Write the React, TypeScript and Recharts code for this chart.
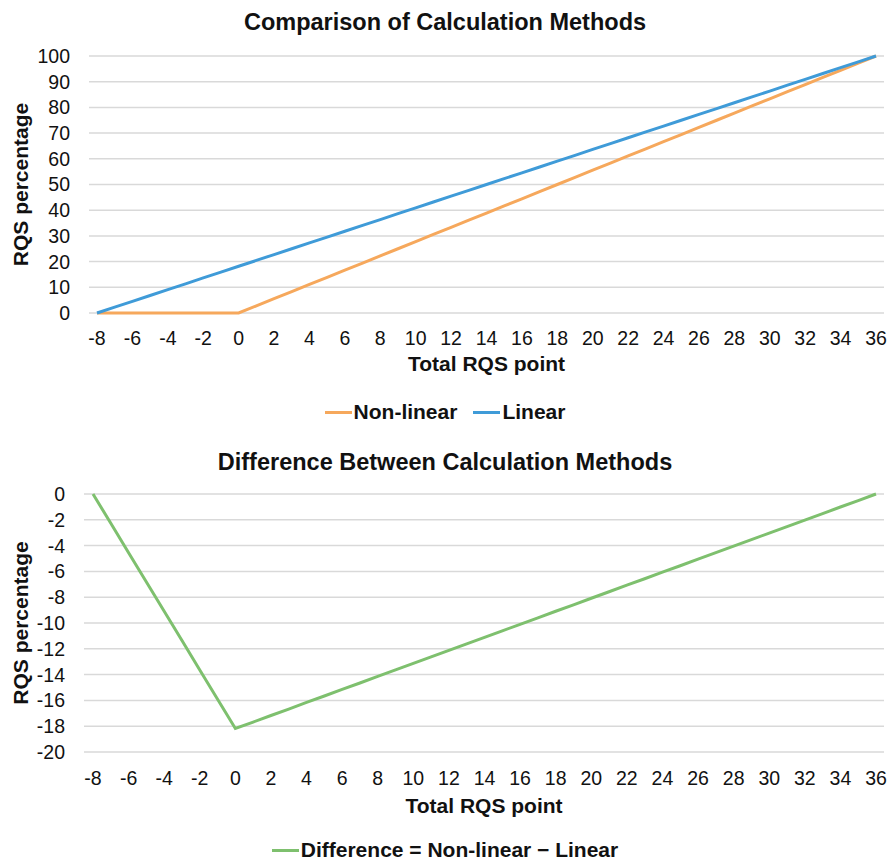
import { CartesianGrid, Line, LineChart, XAxis, YAxis } from "recharts";

// Total RQS point, one point per integer
const points = [
  -8, -7, -6, -5, -4, -3, -2, -1, 0, 1, 2, 3, 4, 5, 6, 7, 8, 9, 10, 11, 12, 13, 14,
  15, 16, 17, 18, 19, 20, 21, 22, 23, 24, 25, 26, 27, 28, 29, 30, 31, 32, 33, 34,
  35, 36,
];

const nonLinear = [
  0, 0, 0, 0, 0, 0, 0, 0, 0, 2.78, 5.56, 8.33, 11.11, 13.89, 16.67, 19.44, 22.22,
  25.0, 27.78, 30.56, 33.33, 36.11, 38.89, 41.67, 44.44, 47.22, 50.0, 52.78, 55.56,
  58.33, 61.11, 63.89, 66.67, 69.44, 72.22, 75.0, 77.78, 80.56, 83.33, 86.11, 88.89,
  91.67, 94.44, 97.22, 100,
];

const linear = [
  0, 2.27, 4.55, 6.82, 9.09, 11.36, 13.64, 15.91, 18.18, 20.45, 22.73, 25.0, 27.27,
  29.55, 31.82, 34.09, 36.36, 38.64, 40.91, 43.18, 45.45, 47.73, 50.0, 52.27, 54.55,
  56.82, 59.09, 61.36, 63.64, 65.91, 68.18, 70.45, 72.73, 75.0, 77.27, 79.55, 81.82,
  84.09, 86.36, 88.64, 90.91, 93.18, 95.45, 97.73, 100,
];

const difference = [
  0, -2.27, -4.55, -6.82, -9.09, -11.36, -13.64, -15.91, -18.18, -17.68, -17.17,
  -16.67, -16.16, -15.66, -15.15, -14.65, -14.14, -13.64, -13.13, -12.63, -12.12,
  -11.62, -11.11, -10.61, -10.1, -9.6, -9.09, -8.59, -8.08, -7.58, -7.07, -6.57,
  -6.06, -5.56, -5.05, -4.55, -4.04, -3.54, -3.03, -2.53, -2.02, -1.52, -1.01,
  -0.51, 0,
];

const xTicks = [-8, -6, -4, -2, 0, 2, 4, 6, 8, 10, 12, 14, 16, 18, 20, 22, 24, 26, 28, 30, 32, 34, 36];
const topYTicks = [0, 10, 20, 30, 40, 50, 60, 70, 80, 90, 100];
const bottomYTicks = [0, -2, -4, -6, -8, -10, -12, -14, -16, -18, -20];

const topData = points.map((x, i) => ({ x, nonLinear: nonLinear[i], linear: linear[i] }));
const bottomData = points.map((x, i) => ({ x, difference: difference[i] }));

const FONT = "Arial, 'Liberation Sans', Helvetica, sans-serif";
const ORANGE = "#F6A85C";
const BLUE = "#3F9BD8";
const GREEN = "#7EC06E";
const GRID = "#D9D9D9";
const tickStyle = { fill: "#111", fontSize: 19.5, fontFamily: FONT };

const titleStyle: React.CSSProperties = {
  position: "absolute",
  left: 0,
  width: 890,
  textAlign: "center",
  fontFamily: FONT,
  fontWeight: 700,
  fontSize: 23.5,
  color: "#111",
  lineHeight: "26px",
};

function yLabel(text: string) {
  return (props: any) => {
    const vb = props.viewBox;
    const cy = vb.y + vb.height / 2;
    return (
      <text
        x={20}
        y={cy}
        transform={`rotate(-90 20 ${cy})`}
        textAnchor="middle"
        dominantBaseline="central"
        style={{ fontFamily: FONT, fontWeight: 700, fontSize: 21, fill: "#111" }}
      >
        {text}
      </text>
    );
  };
}

function xLabel(text: string, dy: number) {
  return (props: any) => {
    const vb = props.viewBox;
    return (
      <text
        x={vb.x + vb.width / 2}
        y={vb.y + dy}
        textAnchor="middle"
        dominantBaseline="central"
        style={{ fontFamily: FONT, fontWeight: 700, fontSize: 21, fill: "#111" }}
      >
        {text}
      </text>
    );
  };
}

function LegendItem({ color, label }: { color: string; label: string }) {
  return (
    <span style={{ display: "inline-flex", alignItems: "center", margin: "0 8px", verticalAlign: "top" }}>
      <span style={{ display: "inline-block", width: 27, height: 3, background: color, marginRight: 2 }} />
      <span>{label}</span>
    </span>
  );
}

const legendStyle: React.CSSProperties = {
  position: "absolute",
  left: 0,
  width: 890,
  textAlign: "center",
  fontFamily: FONT,
  fontWeight: 700,
  fontSize: 21,
  color: "#111",
  lineHeight: "22px",
};

export default function App() {
  return (
    <div style={{ position: "absolute", left: 0, top: 0, width: 890, height: 860, background: "#fff", overflow: "hidden" }}>
      <div style={{ ...titleStyle, top: 9 }}>Comparison of Calculation Methods</div>
      <div style={{ position: "absolute", left: 0, top: 0 }}>
        <LineChart width={890} height={440} data={topData} margin={{ top: 56, right: 6, left: 0, bottom: 67 }}>
          <CartesianGrid vertical={false} stroke={GRID} strokeWidth={1.5} />
          <XAxis
            dataKey="x"
            type="number"
            domain={[-8, 36]}
            ticks={xTicks}
            interval={0}
            padding={{ left: 8, right: 8 }}
            axisLine={false}
            tickLine={false}
            tickSize={0}
            tickMargin={18}
            height={60}
            tick={tickStyle}
            label={xLabel("Total RQS point", 50)}
          />
          <YAxis
            type="number"
            domain={[0, 100]}
            ticks={topYTicks}
            interval={0}
            width={89}
            axisLine={false}
            tickLine={false}
            tickSize={0}
            tickMargin={19}
            tick={tickStyle}
            label={yLabel("RQS percentage")}
          />
          <Line dataKey="nonLinear" stroke={ORANGE} strokeWidth={3} dot={false} isAnimationActive={false} />
          <Line dataKey="linear" stroke={BLUE} strokeWidth={3} dot={false} isAnimationActive={false} />
        </LineChart>
      </div>
      <div style={{ ...legendStyle, top: 401 }}>
        <LegendItem color={ORANGE} label="Non-linear" />
        <LegendItem color={BLUE} label="Linear" />
      </div>

      <div style={{ ...titleStyle, top: 449 }}>Difference Between Calculation Methods</div>
      <div style={{ position: "absolute", left: 0, top: 440 }}>
        <LineChart width={890} height={420} data={bottomData} margin={{ top: 54, right: 6, left: 0, bottom: 48 }}>
          <CartesianGrid vertical={false} stroke={GRID} strokeWidth={1.5} />
          <XAxis
            dataKey="x"
            type="number"
            domain={[-8, 36]}
            ticks={xTicks}
            interval={0}
            padding={{ left: 9, right: 8 }}
            axisLine={false}
            tickLine={false}
            tickSize={0}
            tickMargin={19}
            height={60}
            tick={tickStyle}
            label={xLabel("Total RQS point", 53)}
          />
          <YAxis
            type="number"
            domain={[-20, 0]}
            ticks={bottomYTicks}
            interval={0}
            width={84}
            axisLine={false}
            tickLine={false}
            tickSize={0}
            tickMargin={19}
            tick={tickStyle}
            label={yLabel("RQS percentage")}
          />
          <Line dataKey="difference" stroke={GREEN} strokeWidth={3} dot={false} isAnimationActive={false} />
        </LineChart>
      </div>
      <div style={{ ...legendStyle, top: 839 }}>
        <LegendItem color={GREEN} label="Difference = Non-linear − Linear" />
      </div>
    </div>
  );
}
